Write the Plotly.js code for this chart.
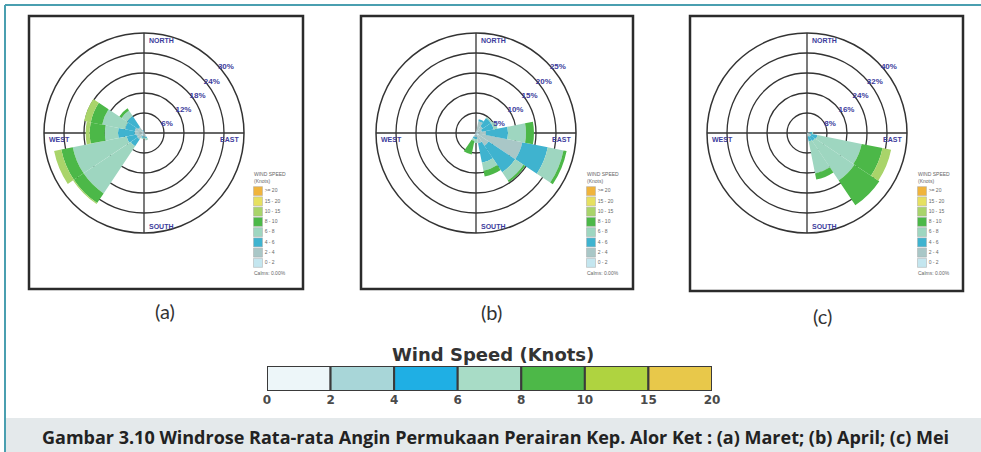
<!DOCTYPE html>
<html><head><meta charset="utf-8">
<script src="https://cdn.plot.ly/plotly-3.0.1.min.js"></script>
<style>html,body{margin:0;padding:0;background:#fff;}#chart{width:981px;height:452px;}</style>
</head><body><div id="chart"></div>
<script>
// ---------- DATA ----------
const directions = [0,22.5,45,67.5,90,112.5,135,157.5,180,202.5,225,247.5,270,292.5,315,337.5];
const binLabels = ['0 - 2','2 - 4','4 - 6','6 - 8','8 - 10','10 - 15','15 - 20','>= 20'];
const roseColors = ['#c4e6ef','#a9c7c7','#3fb3cf','#9ed6c0','#4cb848','#a9d46a','#e6e060','#f0b43c'];

// (a) Maret : percent frequency per speed bin (rows) and direction (columns)
const maret = [
  [0.2,0.2,0.2,0.2,0.3,0.3,0.3,0.5,0.5,0.5,0.8,0.8,0.8,0.8,0.6,0.3],
  [0,0,0,0,0,0,0.3,0.8,0.6,0.6,1.5,1.5,2.0,2.0,1.5,0.3],
  [0,0,0,0,0,0,0,0.4,0.3,0.4,2.5,3.0,5.0,3.0,4.0,0.3],
  [0,0,0,0,0,0,0,0.6,0.3,0.3,17.0,16.5,4.0,7.0,2.0,0],
  [0,0,0,0,0,0,0,0,0,0,3.5,3.5,4.5,3.5,0.8,0],
  [0,0,0,0,0,0,0,0,0,0,0.3,2.2,1.2,2.0,0,0],
  [0,0,0,0,0,0,0,0,0,0,0,0,0,0,0,0],
  [0,0,0,0,0,0,0,0,0,0,0,0,0,0,0,0]
];
// (b) April
const april = [
  [0.3,0.5,0.5,0.5,0.5,0.8,0.8,0.6,0.5,0.5,0.3,0.2,0.2,0.2,0.2,0.2],
  [0,2.5,1.5,1.0,2.0,11.0,3.0,2.0,0.5,0.5,0,0,0,0,0,0],
  [0,0.5,2.5,3.0,5.5,6.5,8.0,5.0,0.5,0.5,0,0,0,0,0,0],
  [0,0,0.3,1.0,4.5,4.0,2.5,2.0,1.0,0.5,0,0,0,0,0,0],
  [0,0,0,0,2.0,0.8,0.5,1.5,0,3.5,0,0,0,0,0,0],
  [0,0,0,0,0,0,0,0,0,0,0,0,0,0,0,0],
  [0,0,0,0,0,0,0,0,0,0,0,0,0,0,0,0],
  [0,0,0,0,0,0,0,0,0,0,0,0,0,0,0,0]
];
// (c) Mei
const mei = [
  [0.2,0.2,0.2,0.2,0.5,0.8,0.8,0.5,0.2,0.1,0.1,0.1,0.1,0.1,0.2,0.2],
  [0,0,0,0,0.5,1.0,1.0,1.0,0,0,0,0,0,0,0,0],
  [0,0,0,0,1.0,2.5,2.0,2.0,0,0,0,0,0,0,0,0],
  [0,0,0,0,0.5,18.0,19.0,13.0,0,0,0,0,0,0,0,0],
  [0,0,0,0,0,8.5,12.0,2.5,0,0,0,0,0,0,0,0],
  [0,0,0,0,0,3.5,0,0,0,0,0,0,0,0,0,0],
  [0,0,0,0,0,0,0,0,0,0,0,0,0,0,0,0],
  [0,0,0,0,0,0,0,0,0,0,0,0,0,0,0,0]
];
const months = [maret, april, mei];
const ringTicks = [[6,12,18,24,30],[5,10,15,20,25],[8,16,24,32,40]];
const panelTitles = ['(a)','(b)','(c)'];
const compassLabels = ['NORTH','EAST','SOUTH','WEST'];
const calmsText = 'Calms: 0.00%';

// bottom colour key
const speedTicks = ['0','2','4','6','8','10','15','20'];
const speedColors = ['#edf6f9','#a8d6d8','#1fafe4','#a8dcc6','#4db848','#afd340','#e8c84a'];
const keyTitle = 'Wind Speed (Knots)';
const caption = 'Gambar 3.10 Windrose Rata-rata Angin Permukaan Perairan Kep. Alor Ket : (a) Maret; (b) April; (c) Mei';

// ---------- LAYOUT GEOMETRY ----------
const W = 981, H = 452;
const px = x => x / W;
const py = y => 1 - y / H;
const panels = [
  {cx:144, cy:133, R:100, box:[29,16,303,289], sx:258, label:[165,311]},
  {cx:476, cy:133, R:100, box:[361,16,633,289], sx:591, label:[492,312]},
  {cx:807, cy:133, R:100, box:[690,16,963,291], sx:922, label:[822,316]}
];
const blue = '#3c3c9c';

const data = [];
const layout = {
  width: W, height: H, margin:{l:0,r:0,t:0,b:0},
  paper_bgcolor:'#ffffff', plot_bgcolor:'rgba(0,0,0,0)',
  showlegend:false, annotations:[], shapes:[],
  font:{family:'Liberation Sans', color:'#333'}
};

// frame lines and caption band
layout.shapes.push({type:'rect', xref:'paper', yref:'paper', x0:px(6), x1:1, y0:0, y1:py(418), fillcolor:'#e4e9eb', line:{width:0}, layer:'below'});
layout.shapes.push({type:'line', xref:'paper', yref:'paper', x0:px(5), x1:1, y0:py(5), y1:py(5), line:{color:'#4a9fb0', width:2}});
layout.shapes.push({type:'line', xref:'paper', yref:'paper', x0:px(5), x1:px(5), y0:py(5), y1:0, line:{color:'#4a9fb0', width:2}});

panels.forEach((p, k) => {
  const sub = k === 0 ? 'polar' : 'polar' + (k + 1);
  const b = p.box;
  layout.shapes.push({type:'rect', xref:'paper', yref:'paper', x0:px(b[0]), x1:px(b[2]), y0:py(b[3]), y1:py(b[1]), fillcolor:'#ffffff', line:{color:'#2b2b2b', width:2.5}, layer:'below'});
  const ticks = ringTicks[k];
  layout[sub] = {
    domain:{x:[px(p.cx - p.R), px(p.cx + p.R)], y:[py(p.cy + p.R), py(p.cy - p.R)]},
    bgcolor:'rgba(0,0,0,0)',
    angularaxis:{rotation:90, direction:'clockwise', tickvals:[0,90,180,270], showticklabels:false, ticks:'',
      showgrid:true, gridcolor:'#333', gridwidth:1.3, showline:true, linecolor:'#333', linewidth:1.5},
    radialaxis:{range:[0, ticks[ticks.length - 1]], tickvals:ticks, ticktext:ticks.map(v => v + '%'),
      angle:45, tickangle:45, side:'clockwise', showline:false, ticks:'', showgrid:true, gridcolor:'#333', gridwidth:1.3,
      tickfont:{size:8, color:blue, family:'Liberation Sans', weight:'bold'}}
  };
  months[k].forEach((vals, i) => {
    data.push({type:'barpolar', subplot:sub, theta:directions, r:vals, width:22.5, name:binLabels[i],
      marker:{color:roseColors[i], line:{width:0}}, hoverinfo:'skip'});
  });
  // compass labels
  const cf = {size:7, color:blue, family:'Liberation Sans', weight:'bold'};
  layout.annotations.push({xref:'paper', yref:'paper', x:px(p.cx + 3), y:py(p.cy - p.R + 7), text:compassLabels[0], showarrow:false, xanchor:'left', yanchor:'middle', font:cf});
  layout.annotations.push({xref:'paper', yref:'paper', x:px(p.cx + p.R - 3), y:py(p.cy + 6), text:compassLabels[1], showarrow:false, xanchor:'right', yanchor:'middle', font:cf});
  layout.annotations.push({xref:'paper', yref:'paper', x:px(p.cx + 3), y:py(p.cy + p.R - 6), text:compassLabels[2], showarrow:false, xanchor:'left', yanchor:'middle', font:cf});
  layout.annotations.push({xref:'paper', yref:'paper', x:px(p.cx - p.R + 3), y:py(p.cy + 6), text:compassLabels[3], showarrow:false, xanchor:'left', yanchor:'middle', font:cf});
  // panel label
  layout.annotations.push({xref:'paper', yref:'paper', x:px(p.label[0]), y:py(p.label[1]), text:panelTitles[k], showarrow:false, xanchor:'center', yanchor:'middle', font:{family:'Lato', size:20, color:'#333'}});
  // in-panel legend (small xy subplot)
  const ax = k + 2;
  layout['xaxis' + ax] = {domain:[px(p.sx - 5), px(p.sx + 45)], range:[0,10], visible:false, fixedrange:true};
  layout['yaxis' + ax] = {domain:[py(268), py(186)], range:[-0.5,7.5], visible:false, fixedrange:true};
  data.push({type:'scatter', xaxis:'x' + ax, yaxis:'y' + ax, x:binLabels.map(() => 1), y:binLabels.map((_, i) => i),
    mode:'markers+text', text:binLabels, textposition:'middle right', cliponaxis:false,
    textfont:{size:5, color:'#666', family:'Liberation Sans'},
    marker:{symbol:'square', size:9, color:roseColors, line:{width:0.5, color:'#aaa'}}, hoverinfo:'skip'});
  layout.annotations.push({xref:'paper', yref:'paper', x:px(p.sx - 6), y:py(169), text:'WIND SPEED<br>(Knots)', showarrow:false, xanchor:'left', yanchor:'top', align:'left', font:{size:5, color:'#666', family:'Liberation Sans'}});
  layout.annotations.push({xref:'paper', yref:'paper', x:px(p.sx - 6), y:py(273), text:calmsText, showarrow:false, xanchor:'left', yanchor:'middle', font:{size:5, color:'#666', family:'Liberation Sans'}});
});

// bottom colour key
data.push({type:'bar', xaxis:'x', yaxis:'y', x:speedColors.map((_, i) => i + 0.5), y:speedColors.map(() => 1), width:1,
  marker:{color:speedColors, line:{color:'#3a3a3a', width:2}}, cliponaxis:false, hoverinfo:'skip'});
layout.xaxis = {domain:[px(267), px(712)], range:[0,7], tickvals:speedTicks.map((_, i) => i), ticktext:speedTicks,
  showgrid:false, zeroline:false, showline:false, ticks:'', fixedrange:true,
  tickfont:{family:'DejaVu Sans', size:12, color:'#4a4a4a', weight:'bold'}};
layout.yaxis = {domain:[py(391), py(366)], range:[0,1], visible:false, fixedrange:true};
layout.annotations.push({xref:'paper', yref:'paper', x:px(493), y:py(354), text:keyTitle, showarrow:false, xanchor:'center', yanchor:'middle', font:{family:'DejaVu Sans', size:18, color:'#333', weight:'bold'}});
layout.annotations.push({xref:'paper', yref:'paper', x:px(495), y:py(437), text:caption, showarrow:false, xanchor:'center', yanchor:'middle', font:{family:'Open Sans', size:18, color:'#222', weight:'bold'}});

Plotly.newPlot('chart', data, layout, {displayModeBar:false, staticPlot:true});
</script></body></html>
